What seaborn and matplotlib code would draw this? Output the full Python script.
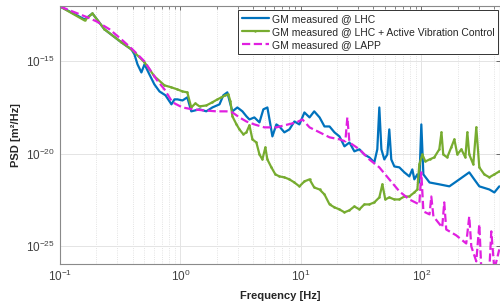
import numpy as np
import matplotlib
matplotlib.use("Agg")
import matplotlib.pyplot as plt
import matplotlib.ticker as mticker
import seaborn as sns

# Ground motion PSD (frequency in Hz, PSD as log10 of m^2/Hz)
lhc_freq = [0.1, 0.160, 0.186, 0.234, 0.324, 0.392, 0.415, 0.440, 0.474, 0.503,
            0.553, 0.608, 0.670, 0.751, 0.842, 0.892, 0.944, 1.04, 1.14, 1.23,
            1.44, 1.64, 1.84, 2.11, 2.27, 2.45, 2.60, 2.70, 2.97, 3.27,
            3.53, 3.74, 4.11, 4.53, 4.88, 5.27, 5.58, 5.80, 6.26, 6.63,
            7.29, 8.03, 8.83, 9.72, 10.7, 11.8, 12.9, 14.3, 15.7, 17.3,
            19.0, 20.9, 23.0, 25.3, 27.8, 30.6, 33.6, 37.0, 40.7, 43.1,
            44.8, 46.6, 49.3, 52.2, 54.2, 56.3, 59.7, 65.7, 72.3, 79.5,
            84.2, 87.5, 92.7, 96.2, 100, 104, 117, 141, 171, 207,
            250, 275, 303, 367, 404, 444]
lhc_log_psd = [-12.02, -12.72, -12.40, -13.26, -13.97, -14.35, -14.62, -15.16, -15.60, -15.16,
               -15.71, -16.25, -16.63, -16.84, -17.33, -17.06, -17.06, -17.12, -16.95, -17.71,
               -17.60, -17.71, -17.50, -17.33, -16.84, -16.68, -17.33, -17.71, -17.50, -17.71,
               -17.98, -18.15, -18.04, -18.31, -17.60, -17.50, -18.42, -19.07, -18.42, -18.53,
               -18.85, -18.69, -18.26, -18.42, -17.77, -18.04, -17.71, -18.04, -18.53, -18.53,
               -18.85, -19.07, -19.61, -19.40, -19.88, -19.77, -20.05, -20.21, -20.48, -19.77,
               -17.50, -19.77, -20.32, -20.05, -18.69, -20.32, -20.70, -20.75, -21.02, -21.24,
               -20.86, -21.40, -21.13, -21.57, -18.42, -21.13, -21.57, -21.67, -21.78, -21.40,
               -21.02, -21.40, -21.78, -21.95, -22.11, -21.78]

avc_freq = [0.1, 0.160, 0.186, 0.234, 0.324, 0.392, 0.503, 0.608, 0.737, 0.842,
            0.944, 1.04, 1.14, 1.23, 1.33, 1.44, 1.64, 1.84, 2.03, 2.19,
            2.36, 2.50, 2.60, 2.70, 2.92, 3.09, 3.33, 3.53, 3.74, 3.96,
            4.27, 4.53, 4.79, 5.07, 5.27, 5.69, 6.14, 6.63, 7.29, 8.03,
            8.83, 9.72, 10.7, 11.8, 12.9, 14.3, 15.7, 17.3, 19.0, 20.9,
            23.0, 25.3, 27.8, 30.6, 33.6, 37.0, 40.7, 44.8, 47.5, 50.2,
            54.2, 59.7, 65.7, 72.3, 79.5, 87.5, 92.7, 96.2, 102, 108,
            117, 128, 141, 147, 152, 164, 177, 188, 199, 215,
            232, 241, 250, 270, 286, 303, 333, 367, 404, 444]
avc_log_psd = [-12.02, -12.78, -12.40, -13.26, -13.97, -14.35, -15.05, -15.81, -16.30, -16.41,
               -16.52, -16.63, -16.68, -17.50, -17.28, -17.44, -17.39, -17.22, -17.06, -16.95,
               -16.84, -16.79, -17.17, -17.98, -18.42, -18.69, -18.96, -18.85, -18.47, -19.23,
               -19.40, -20.05, -20.32, -19.67, -20.32, -20.75, -21.13, -21.24, -21.29, -21.40,
               -21.57, -21.78, -21.51, -21.40, -21.84, -21.95, -22.22, -22.76, -22.92, -23.03,
               -23.19, -23.08, -22.87, -23.03, -22.76, -22.76, -22.65, -22.38, -21.67, -22.49,
               -22.38, -22.49, -22.49, -22.33, -22.33, -22.11, -21.95, -20.59, -20.05, -20.43,
               -20.32, -20.21, -19.77, -18.85, -20.05, -20.21, -19.67, -19.23, -20.05, -19.77,
               -20.21, -18.85, -20.05, -20.59, -18.58, -20.75, -21.13, -21.29, -21.13, -20.97]

lapp_freq = [0.1, 0.127, 0.169, 0.201, 0.258, 0.324, 0.400, 0.503, 0.632, 0.737,
             0.858, 1.04, 1.26, 1.58, 1.99, 2.41, 2.70, 3.09, 3.53, 4.11,
             4.98, 6.26, 7.29, 9.18, 10.3, 11.8, 14.3, 17.3, 20.9, 23.4,
             24.3, 25.3, 30.6, 37.0, 44.8, 54.2, 65.7, 79.5, 96.2, 100,
             104, 117, 121, 126, 149, 155, 161, 195, 236, 250,
             260, 286, 303, 315, 367, 381, 404, 444]
lapp_log_psd = [-12.02, -12.29, -12.61, -12.83, -13.26, -13.81, -14.35, -15.00, -15.98, -16.52,
                -17.22, -17.50, -17.60, -17.66, -17.71, -17.71, -17.77, -18.04, -18.26, -18.42,
                -18.58, -18.58, -18.47, -18.31, -18.15, -18.58, -18.85, -19.12, -19.23, -19.34,
                -18.04, -19.40, -19.77, -20.32, -20.75, -21.40, -22.05, -22.49, -22.76, -21.02,
                -23.14, -23.30, -22.33, -23.41, -24.01, -22.65, -24.12, -24.44, -24.88, -23.41,
                -25.04, -25.85, -23.84, -26.30, -26.30, -24.22, -26.30, -25.20]

series = [
    ("GM measured @ LHC", lhc_freq, lhc_log_psd, "#0072BD", "-", None),
    ("GM measured @ LHC + Active Vibration Control", avc_freq, avc_log_psd, "#77AC30", "-", "."),
    ("GM measured @ LAPP", lapp_freq, lapp_log_psd, "#E020E0", "--", None),
]

sns.set_theme(style="whitegrid")
plt.rcParams['font.family'] = ['Liberation Sans', 'DejaVu Sans']

fig = plt.figure(figsize=(5.0, 3.05), dpi=100)
ax = fig.add_axes([0.12, 0.134, 0.88, 0.846])
ax.set_facecolor("white")

for name, freq, log_psd, color, ls, marker in series:
    sns.lineplot(x=freq, y=10.0 ** np.array(log_psd), ax=ax, color=color,
                 linestyle=ls, marker=marker, markersize=3.5, markeredgewidth=0,
                 linewidth=1.6, label=name, estimator=None, sort=False)

ax.set_xscale("log")
ax.set_yscale("log")
ax.set_xlim(0.1, 450)
ax.set_ylim(1e-26, 1e-12)
ax.set_xticks([0.1, 1, 10, 100])
ax.xaxis.set_minor_locator(mticker.LogLocator(base=10, subs=np.arange(2, 10), numticks=20))
ax.xaxis.set_minor_formatter(mticker.NullFormatter())
ax.set_yticks([1e-25, 1e-20, 1e-15])
ax.yaxis.set_minor_locator(mticker.NullLocator())

ax.grid(which="major", color="#e4e4e4", linewidth=0.7, linestyle="-")
ax.grid(which="minor", axis="x", color="#dadada", linewidth=0.6, linestyle=":")
ax.tick_params(which="both", direction="in", top=True, right=True,
               colors="#555555", labelcolor="#404040", labelsize=8.5)
ax.tick_params(which="major", length=3, width=0.6)
ax.tick_params(which="minor", length=1.8, width=0.5)
for side in ["left", "bottom", "top", "right"]:
    ax.spines[side].set_color("#8a8a8a")
    ax.spines[side].set_linewidth(0.8)

ax.set_xlabel("Frequency [Hz]", fontsize=8, fontweight="bold", color="#262626", labelpad=5)
ax.set_ylabel("PSD [m²/Hz]", fontsize=8, fontweight="bold", color="#262626", labelpad=4)

leg = ax.legend(loc="upper right", bbox_to_anchor=(0.996, 0.984), borderaxespad=0,
                fontsize=7.5, frameon=True, fancybox=False, framealpha=1,
                edgecolor="#333333", handlelength=2.6, borderpad=0.35,
                labelspacing=0.3, handletextpad=0.3)
leg.get_frame().set_linewidth(0.7)
for t in leg.get_texts():
    t.set_color("#262626")

fig.savefig("out.png", dpi=100)
plt.close(fig)
